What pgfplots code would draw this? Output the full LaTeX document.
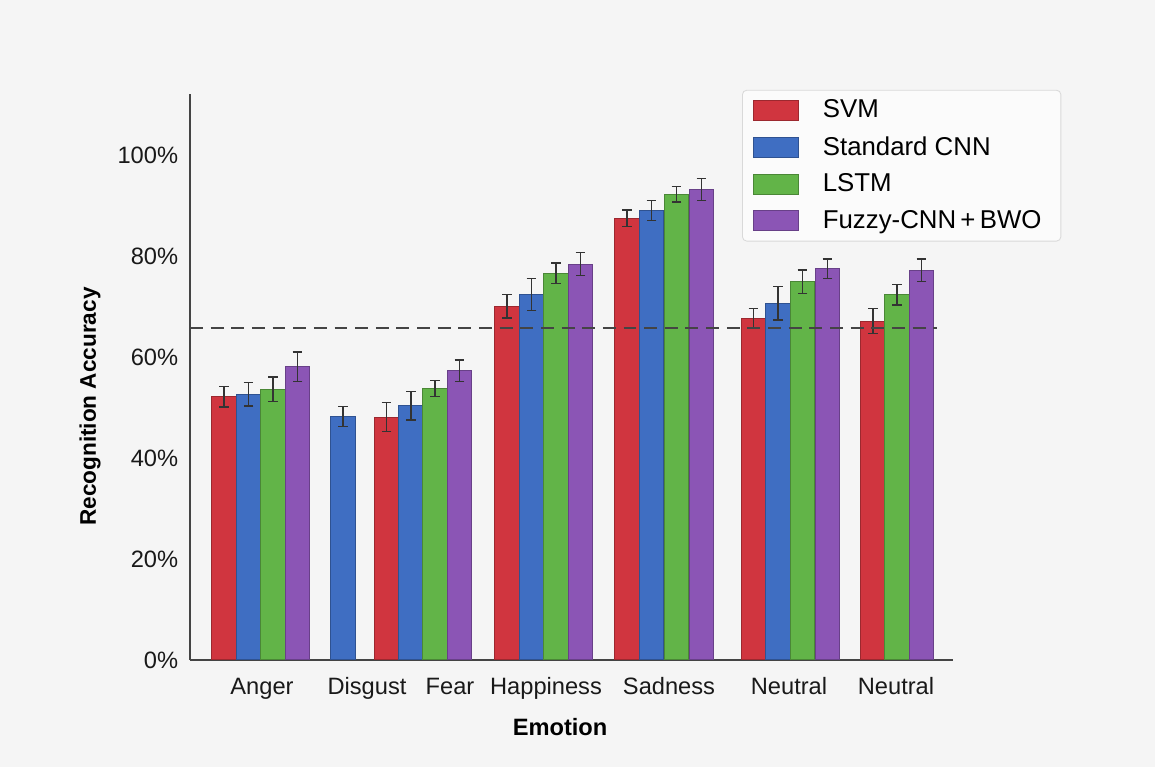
\documentclass[border=0pt]{standalone}
\usepackage{pgfplots}
\pgfplotsset{compat=1.18}
\usepackage{pgfplotstable}
\usepackage{fontspec}
\setmainfont{Liberation Sans}
\usetikzlibrary{backgrounds}
\definecolor{cSVM}{HTML}{D0353F}
\definecolor{cCNN}{HTML}{3F6EC2}
\definecolor{cLSTM}{HTML}{62B448}
\definecolor{cFZ}{HTML}{8B55B5}
\definecolor{bgc}{HTML}{F5F5F5}
\definecolor{axc}{HTML}{444444}

\pgfplotstableread{
x y e
34 52.1 2.0
196.5 48.1 2.9
317 70.0 2.3
437 87.5 1.6
563.5 67.6 2.0
683 67.1 2.5
}\svm
\pgfplotstableread{
x y e
58.5 52.6 2.3
153 48.2 2.0
221 50.3 2.8
341.5 72.4 3.2
461.5 89.0 2.0
588 70.6 3.3
}\cnn
\pgfplotstableread{
x y e
83 53.6 2.4
245 53.7 1.6
366 76.6 2.0
486.5 92.2 1.5
612.5 74.9 2.3
707 72.3 2.0
}\lstm
\pgfplotstableread{
x y e
107.5 58.1 2.9
269.5 57.3 2.1
390.5 78.4 2.3
511.5 93.2 2.2
637.5 77.5 1.9
731.5 77.2 2.2
}\fz

\begin{document}
\begin{tikzpicture}
\begin{axis}[
  x=0.465pt, y=2.348pt,
  xmin=0, xmax=763, ymin=0, ymax=112,
  axis lines=left,
  axis line style={axc, line width=0.9pt, -},
  ybar, bar width=24.5,
  major tick length=0pt,
  xtick={72,177,260,356,479,599,706},
  xticklabels={Anger,Disgust,Fear,Happiness,Sadness,Neutral,Neutral},
  ytick={0,20,40,60,80,100},
  yticklabel={\pgfmathprintnumber{\tick}\%},
  /pgf/number format/assume math mode=true,
  tick label style={font=\fontsize{11}{13}\selectfont, text=black!90},
  xticklabel style={anchor=base, yshift=-16.3pt},
  yticklabel style={anchor=east, xshift=-2pt},
  xlabel={Emotion},
  ylabel={Recognition Accuracy},
  xlabel style={font=\bfseries\fontsize{11}{13}\selectfont, at={(axis description cs:0.485,0)}, anchor=center, yshift=-31pt},
  ylabel style={font=\bfseries\fontsize{10.5}{12}\selectfont, at={(axis description cs:-0.131,0.448)}, anchor=center},
  clip=false,
  error bars/error bar style={line width=0.6pt, black!80},
  error bars/error mark options={rotate=90, mark size=2.3pt, line width=0.6pt, black!80},
  legend style={at={(axis cs:552,112.9)}, anchor=north west, draw=black!15, fill=white!60!bgc, rounded corners=2pt,
    font=\fontsize{12}{14}\selectfont, row sep=3.1pt, inner xsep=5pt, inner ysep=2.5pt,
    nodes={inner xsep=4pt}},
  legend cell align=left,
  legend image code/.code={\draw[#1, sharp corners] (0pt,-4.6pt) rectangle (21pt,4.6pt); \path (28pt,0pt);},
]
\addplot[bar shift=0pt, fill=cSVM, draw=cSVM!75!black, line width=0.4pt, error bars/.cd, y dir=both, y explicit] table[x=x, y=y, y error=e] {\svm};
\addplot[bar shift=0pt, fill=cCNN, draw=cCNN!75!black, line width=0.4pt, error bars/.cd, y dir=both, y explicit] table[x=x, y=y, y error=e] {\cnn};
\addplot[bar shift=0pt, fill=cLSTM, draw=cLSTM!75!black, line width=0.4pt, error bars/.cd, y dir=both, y explicit] table[x=x, y=y, y error=e] {\lstm};
\addplot[bar shift=0pt, fill=cFZ, draw=cFZ!75!black, line width=0.4pt, error bars/.cd, y dir=both, y explicit] table[x=x, y=y, y error=e] {\fz};
\legend{SVM, Standard CNN, LSTM, Fuzzy-CNN\,+\,BWO}
\addplot[sharp plot, forget plot, axc, line width=1.1pt, dash pattern=on 6pt off 3.6pt] coordinates {(0,65.7) (747,65.7)};
\coordinate (bl) at (axis cs:-190,-21.19);
\coordinate (tr) at (axis cs:965,130.69);
\end{axis}
\begin{scope}[on background layer]
\fill[bgc] (bl) rectangle (tr);
\end{scope}
\pgfresetboundingbox
\useasboundingbox (bl) rectangle (tr);
\end{tikzpicture}
\end{document}
